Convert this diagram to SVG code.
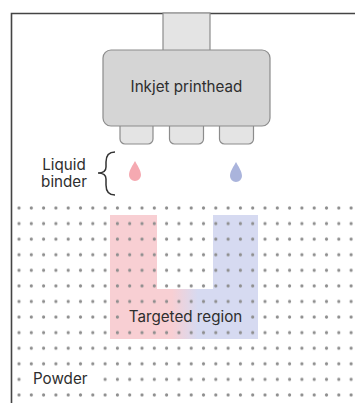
<svg xmlns="http://www.w3.org/2000/svg" width="355" height="403" viewBox="0 0 355 403">
<style>
.lbl{font-family:Inter,"Liberation Sans",sans-serif;font-size:15.2px;fill:#2e2e2e}
.part{fill:#e4e4e4;stroke:#8c8c8c;stroke-width:1.2}
.dot{fill:#8e8e8e}
</style>
<defs>
<pattern id="dots" patternUnits="userSpaceOnUse" x="12.85" y="200.21" width="12.3" height="15.58">
<circle class="dot" cx="6.15" cy="7.79" r="1.6"/>
</pattern>
<linearGradient id="band" gradientUnits="userSpaceOnUse" x1="172" y1="0" x2="198" y2="0">
<stop offset="0" stop-color="#f8cfd3"/>
<stop offset="1" stop-color="#d6daf1"/>
</linearGradient>
<mask id="dotmask" maskUnits="userSpaceOnUse" x="0" y="0" width="355" height="403">
<rect x="0" y="0" width="355" height="403" fill="#fff"/>
<rect x="25" y="372" width="73" height="15" fill="#000"/>
<rect x="124" y="310" width="123" height="14" fill="#000"/>
</mask>
</defs>
<rect width="355" height="403" fill="#fff"/>
<g id="targeted-region">
<rect x="110" y="215" width="47" height="124" fill="#f8cfd3"/>
<rect x="213" y="215" width="45" height="124" fill="#d6daf1"/>
<rect x="110" y="289" width="148" height="50" fill="url(#band)"/>
</g>
<g id="powder">
<rect x="12" y="200" width="343" height="203" fill="url(#dots)" mask="url(#dotmask)"/>
</g>
<g id="frame">
<path d="M11.5,403 V13.5 H355" fill="none" stroke="#444" stroke-width="1.6"/>
</g>
<g id="printhead">
<rect class="part" x="163" y="13" width="47" height="42"/>
<rect class="part" x="120" y="118" width="33" height="26" rx="5"/>
<rect class="part" x="169.5" y="118" width="34" height="26" rx="5"/>
<rect class="part" x="219.5" y="118" width="34" height="26" rx="5"/>
<rect x="103" y="50" width="167" height="76" rx="8" fill="#d5d5d5" stroke="#8c8c8c" stroke-width="1.2"/>
<text class="lbl" x="186.5" y="91.5" text-anchor="middle">Inkjet printhead</text>
</g>
<g id="drops">
<path d="M135,161 C133,165 129,170 129,175 A6,6 0 0 0 141,175 C141,170 137,165 135,161 Z" fill="#f5a9b1"/>
<path d="M236,162 C234,166 230,171 230,176 A6,6 0 0 0 242,176 C242,171 238,166 236,162 Z" fill="#aab4dc"/>
</g>
<g id="connectors">
<path d="M115,152 C108,152 106,156 106,162 L106,167 C106,171 103,173 98,173 C103,173 106,175 106,179 L106,185 C106,191 108,195 115,195" fill="none" stroke="#333" stroke-width="1.5"/>
</g>
<g id="labels">
<text class="lbl" x="64" y="169.5" text-anchor="middle">Liquid</text>
<text class="lbl" x="64" y="187" text-anchor="middle">binder</text>
<text class="lbl" x="185.5" y="322" text-anchor="middle">Targeted region</text>
<text class="lbl" x="33" y="384">Powder</text>
</g>
</svg>
